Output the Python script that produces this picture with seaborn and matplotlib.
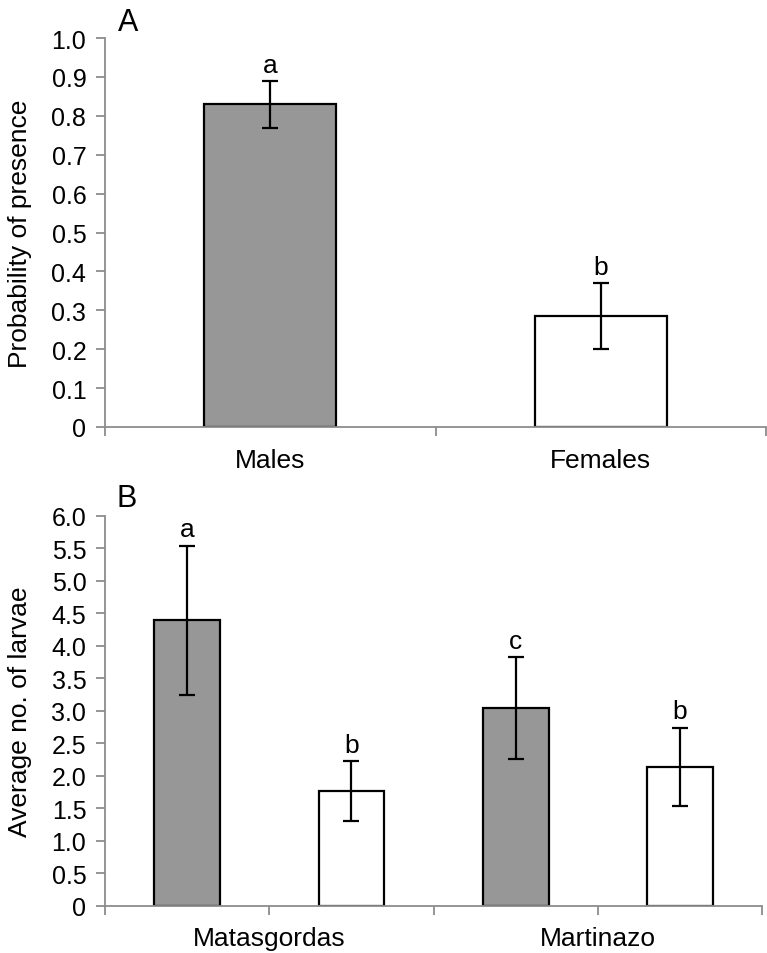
import matplotlib
matplotlib.use("Agg")
import matplotlib.pyplot as plt
import seaborn as sns
import pandas as pd

# ---- data ----
sex_a = ["Males", "Females"]
prob_a = [0.83, 0.285]
err_a = [0.06, 0.085]
letters_a = ["a", "b"]

sites_b = ["Matasgordas", "Matasgordas", "Martinazo", "Martinazo"]
sex_b = ["Males", "Females", "Males", "Females"]
larvae_b = [4.39, 1.76, 3.04, 2.14]
err_b = [1.15, 0.46, 0.79, 0.60]
letters_b = ["a", "b", "c", "b"]

site_order = ["Matasgordas", "Martinazo"]
sex_order = ["Males", "Females"]

sns.set_style("white")
plt.rcParams["font.family"] = ["Liberation Sans", "DejaVu Sans"]
plt.rcParams["text.color"] = "black"
plt.rcParams["xtick.labelcolor"] = "black"
plt.rcParams["ytick.labelcolor"] = "black"
plt.rcParams["axes.labelcolor"] = "black"

GRAY = "#979797"
AXC = "#8c8c8c"
pal = {"Males": GRAY, "Females": "white"}
FS_TICK = 18
FS_LAB = 19

dfa = pd.DataFrame({"sex": sex_a, "prob": prob_a, "err": err_a, "let": letters_a})
dfb = pd.DataFrame({"site": sites_b, "sex": sex_b, "val": larvae_b, "err": err_b, "let": letters_b})

fig = plt.figure(figsize=(7.67, 9.54), dpi=100)
axA = fig.add_axes([0.137, 0.5514, 0.8617, 0.4076])
axB = fig.add_axes([0.137, 0.0496, 0.8565, 0.4088])


def style_axes(ax):
    for s in ["top", "right"]:
        ax.spines[s].set_visible(False)
    for s in ["left", "bottom"]:
        ax.spines[s].set_color(AXC)
        ax.spines[s].set_linewidth(1.3)
    ax.tick_params(axis="y", which="major", direction="out", length=6.5, width=1.3,
                   color=AXC, labelsize=FS_TICK, pad=7, left=True, labelcolor="black")
    ax.tick_params(axis="x", which="both", direction="out", color=AXC, width=1.3,
                   labelsize=FS_LAB, bottom=True, labelcolor="black")


def annotate(ax, xs, means, errs, letters):
    for x, m, e, t in zip(xs, means, errs, letters):
        ax.errorbar(x, m, yerr=e, fmt="none", ecolor="black", elinewidth=1.6,
                    capsize=5.5, capthick=1.6, zorder=5)
        ax.annotate(t, (x, m + e), xytext=(0, 3), textcoords="offset points",
                    ha="center", va="bottom", fontsize=FS_LAB, color="black")


# ---- Panel A ----
sns.barplot(data=dfa, x="sex", y="prob", hue="sex", order=sex_order, hue_order=sex_order,
            palette=pal, width=0.4, edgecolor="black", linewidth=1.6, errorbar=None,
            legend=False, ax=axA)
style_axes(axA)
axA.set_xlim(-0.5, 1.5)
axA.set_ylim(0, 1.0)
yt = [i / 10 for i in range(11)]
axA.set_yticks(yt, ["0"] + [f"{v:.1f}" for v in yt[1:]])
axA.set_xticks([0, 1], sex_order)
axA.set_xticks([-0.5, 0.5, 1.5], minor=True)
axA.tick_params(axis="x", which="major", length=0, pad=15)
axA.tick_params(axis="x", which="minor", length=6.5)
axA.set_xlabel("")
axA.set_ylabel("Probability of presence", fontsize=FS_LAB, labelpad=14)
xsA, msA, esA, lsA = [], [], [], []
for cont, sx in zip(axA.containers, sex_order):
    for bar in cont:
        row = dfa[dfa["sex"] == sx].iloc[0]
        xsA.append(bar.get_x() + bar.get_width() / 2)
        msA.append(row["prob"]); esA.append(row["err"]); lsA.append(row["let"])
annotate(axA, xsA, msA, esA, lsA)
fig.text(0.154, 0.992, "A", fontsize=22, ha="left", va="top")

# ---- Panel B ----
sns.barplot(data=dfb, x="site", y="val", hue="sex", order=site_order, hue_order=sex_order,
            palette=pal, width=1.0, gap=0.6, dodge=True, edgecolor="black", linewidth=1.6,
            errorbar=None, legend=False, ax=axB)
style_axes(axB)
axB.set_xlim(-0.5, 1.5)
axB.set_ylim(0, 6.0)
ytb = [i * 0.5 for i in range(13)]
axB.set_yticks(ytb, ["0"] + [f"{v:.1f}" for v in ytb[1:]])
axB.set_xticks([-0.5, 0, 0.5, 1, 1.5], ["", "Matasgordas", "", "Martinazo", ""])
axB.tick_params(axis="x", which="major", length=6.5, pad=8)
axB.set_xlabel("")
axB.set_ylabel("Average no. of larvae", fontsize=FS_LAB, labelpad=14)
xsB, msB, esB, lsB = [], [], [], []
for cont, sx in zip(axB.containers, sex_order):
    for bar, site in zip(cont, site_order):
        row = dfb[(dfb["sex"] == sx) & (dfb["site"] == site)].iloc[0]
        xsB.append(bar.get_x() + bar.get_width() / 2)
        msB.append(row["val"]); esB.append(row["err"]); lsB.append(row["let"])
annotate(axB, xsB, msB, esB, lsB)
fig.text(0.152, 0.493, "B", fontsize=22, ha="left", va="top")

fig.savefig("out.png", dpi=100)
